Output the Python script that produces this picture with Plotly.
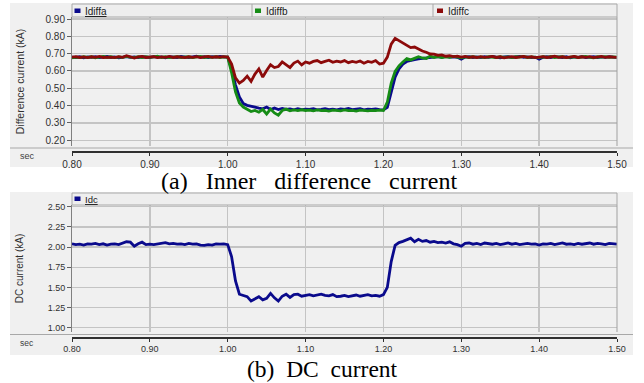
import plotly.graph_objects as go

W, H = 644, 383

# ---------------- data (sampled every 5 ms from 0.80 s) ----------------
t_start = 0.80
t_step = 0.005

idiffa = [
    0.680, 0.678, 0.682, 0.676, 0.681, 0.679, 0.683, 0.677, 0.680, 0.684,
    0.678, 0.681, 0.676, 0.680, 0.683, 0.679, 0.681, 0.677, 0.682, 0.680,
    0.678, 0.683, 0.679, 0.681, 0.676, 0.682, 0.680, 0.678, 0.684, 0.680,
    0.677, 0.681, 0.685, 0.679, 0.682, 0.678, 0.683, 0.680, 0.684, 0.681,
    0.680, 0.610, 0.520, 0.450, 0.412, 0.402, 0.395, 0.392, 0.386, 0.382,
    0.392, 0.378, 0.386, 0.377, 0.384, 0.378, 0.381, 0.376, 0.383, 0.377,
    0.380, 0.378, 0.382, 0.376, 0.379, 0.383, 0.377, 0.380, 0.376, 0.381,
    0.378, 0.384, 0.377, 0.379, 0.382, 0.376, 0.380, 0.378, 0.381, 0.377,
    0.376, 0.390, 0.480, 0.565, 0.612, 0.640, 0.655, 0.662, 0.665, 0.670,
    0.672, 0.675, 0.678, 0.680, 0.683, 0.679, 0.684, 0.680, 0.682, 0.679,
    0.668, 0.680, 0.683, 0.678, 0.681, 0.677, 0.682, 0.679, 0.684, 0.680,
    0.676, 0.681, 0.683, 0.678, 0.680, 0.684, 0.679, 0.681, 0.677, 0.680,
    0.668, 0.679, 0.682, 0.677, 0.683, 0.680, 0.678, 0.682, 0.676, 0.681,
    0.679, 0.683, 0.677, 0.680, 0.682, 0.678, 0.681, 0.679, 0.683, 0.680,
    0.678,
]

idiffb = [
    0.675, 0.680, 0.677, 0.683, 0.678, 0.682, 0.676, 0.681, 0.684, 0.678,
    0.682, 0.677, 0.681, 0.679, 0.684, 0.680, 0.677, 0.682, 0.678, 0.683,
    0.679, 0.681, 0.685, 0.678, 0.682, 0.677, 0.681, 0.683, 0.678, 0.680,
    0.682, 0.677, 0.681, 0.684, 0.678, 0.682, 0.679, 0.683, 0.677, 0.681,
    0.680, 0.590, 0.480, 0.415, 0.392, 0.378, 0.366, 0.372, 0.362, 0.378,
    0.352, 0.380, 0.358, 0.345, 0.372, 0.380, 0.370, 0.375, 0.371, 0.376,
    0.372, 0.374, 0.370, 0.375, 0.371, 0.373, 0.369, 0.374, 0.372, 0.370,
    0.375, 0.371, 0.373, 0.369, 0.374, 0.372, 0.370, 0.373, 0.371, 0.374,
    0.372, 0.420, 0.530, 0.598, 0.630, 0.652, 0.672, 0.664, 0.672, 0.682,
    0.675, 0.672, 0.686, 0.678, 0.683, 0.677, 0.681, 0.679, 0.684, 0.678,
    0.676, 0.681, 0.678, 0.683, 0.679, 0.681, 0.677, 0.682, 0.680, 0.678,
    0.683, 0.679, 0.681, 0.677, 0.682, 0.680, 0.684, 0.678, 0.681, 0.679,
    0.677, 0.682, 0.679, 0.684, 0.678, 0.681, 0.683, 0.677, 0.680, 0.682,
    0.678, 0.681, 0.684, 0.679, 0.676, 0.682, 0.680, 0.683, 0.679, 0.681,
    0.680,
]

idiffc = [
    0.680, 0.683, 0.678, 0.681, 0.677, 0.682, 0.679, 0.684, 0.678, 0.681,
    0.680, 0.677, 0.683, 0.679, 0.688, 0.682, 0.675, 0.681, 0.684, 0.678,
    0.680, 0.683, 0.677, 0.681, 0.679, 0.684, 0.678, 0.682, 0.680, 0.677,
    0.682, 0.679, 0.683, 0.678, 0.681, 0.684, 0.679, 0.682, 0.680, 0.683,
    0.680, 0.640, 0.560, 0.530, 0.545, 0.570, 0.540, 0.582, 0.612, 0.565,
    0.603, 0.636, 0.620, 0.626, 0.652, 0.635, 0.620, 0.646, 0.657, 0.635,
    0.652, 0.645, 0.655, 0.660, 0.648, 0.655, 0.662, 0.650, 0.657, 0.652,
    0.660, 0.648, 0.655, 0.650, 0.658, 0.645, 0.655, 0.650, 0.660, 0.640,
    0.645, 0.680, 0.755, 0.788, 0.775, 0.765, 0.752, 0.735, 0.738, 0.725,
    0.715, 0.708, 0.698, 0.697, 0.690, 0.693, 0.685, 0.688, 0.683, 0.686,
    0.680, 0.684, 0.679, 0.682, 0.677, 0.683, 0.679, 0.681, 0.684, 0.678,
    0.682, 0.676, 0.681, 0.683, 0.678, 0.680, 0.684, 0.679, 0.682, 0.677,
    0.680, 0.683, 0.678, 0.681, 0.685, 0.679, 0.682, 0.677, 0.681, 0.684,
    0.678, 0.682, 0.679, 0.683, 0.677, 0.681, 0.684, 0.679, 0.682, 0.680,
    0.678,
]

idc = [
    2.040, 2.030, 2.035, 2.025, 2.040, 2.035, 2.045, 2.030, 2.040, 2.025,
    2.035, 2.040, 2.030, 2.050, 2.065, 2.060, 2.010, 2.040, 2.060, 2.030,
    2.035, 2.030, 2.040, 2.050, 2.055, 2.040, 2.045, 2.035, 2.040, 2.030,
    2.045, 2.035, 2.040, 2.025, 2.020, 2.030, 2.025, 2.040, 2.035, 2.040,
    2.030, 1.880, 1.580, 1.415, 1.400, 1.385, 1.330, 1.360, 1.384, 1.345,
    1.365, 1.425, 1.370, 1.330, 1.390, 1.415, 1.375, 1.410, 1.415, 1.390,
    1.400, 1.410, 1.395, 1.405, 1.415, 1.400, 1.395, 1.410, 1.385, 1.390,
    1.400, 1.385, 1.395, 1.405, 1.390, 1.400, 1.410, 1.395, 1.400, 1.390,
    1.410, 1.500, 1.820, 2.020, 2.055, 2.070, 2.095, 2.110, 2.065, 2.095,
    2.070, 2.080, 2.060, 2.070, 2.055, 2.060, 2.050, 2.065, 2.040, 2.030,
    2.010, 2.045, 2.050, 2.035, 2.045, 2.030, 2.050, 2.040, 2.035, 2.045,
    2.030, 2.040, 2.050, 2.035, 2.045, 2.030, 2.040, 2.045, 2.035, 2.040,
    2.025, 2.040, 2.035, 2.045, 2.030, 2.040, 2.050, 2.035, 2.040, 2.030,
    2.045, 2.035, 2.040, 2.050, 2.035, 2.045, 2.040, 2.030, 2.045, 2.040,
    2.035,
]

x_ticks = [0.80, 0.90, 1.00, 1.10, 1.20, 1.30, 1.40, 1.50]
x_labels = ["0.80", "0.90", "1.00", "1.10", "1.20", "1.30", "1.40", "1.50"]
y1_ticks = [0.20, 0.30, 0.40, 0.50, 0.60, 0.70, 0.80, 0.90]
y1_labels = ["0.20", "0.30", "0.40", "0.50", "0.60", "0.70", "0.80", "0.90"]
y2_ticks = [1.00, 1.25, 1.50, 1.75, 2.00, 2.25, 2.50]
y2_labels = ["1.00", "1.25", "1.50", "1.75", "2.00", "2.25", "2.50"]

# ---------------- helpers (pixel -> paper) ----------------
def px(x):
    return x / W


def py(y):
    return 1 - y / H


BLUE = "#0a0a8c"
GREEN = "#168c16"
RED = "#8c0a0a"
GRAY_BG = "#f0f0f0"
GRID = "#c4c4c4"
FONT = "Liberation Sans, Arial, sans-serif"

fig = go.Figure()
fig.add_trace(go.Scatter(y=idiffa, x0=t_start, dx=t_step, mode="lines",
                         line=dict(color=BLUE, width=2.8), xaxis="x", yaxis="y"))
fig.add_trace(go.Scatter(y=idiffb, x0=t_start, dx=t_step, mode="lines",
                         line=dict(color=GREEN, width=2.8), xaxis="x", yaxis="y"))
fig.add_trace(go.Scatter(y=idiffc, x0=t_start, dx=t_step, mode="lines",
                         line=dict(color=RED, width=2.8), xaxis="x", yaxis="y"))
fig.add_trace(go.Scatter(y=idc, x0=t_start, dx=t_step, mode="lines",
                         line=dict(color=BLUE, width=2.8), xaxis="x2", yaxis="y2"))

XL, XR = 72, 617
# top panel geometry
T_TOP, T_BOT, T_AX = 17, 146, 151
# bottom panel geometry
B_TOP, B_BOT, B_AX = 205, 332, 337

common_x = dict(range=[0.80, 1.50], tickvals=x_ticks, ticktext=x_labels,
                showgrid=True, gridcolor=GRID, gridwidth=1.3, zeroline=False,
                showline=True, linecolor="#303030", linewidth=1.5,
                ticks="outside", ticklen=3, tickcolor="#303030",
                automargin=False,
                anchor="free", domain=[px(XL), px(XR)])
common_y = dict(showgrid=True, gridcolor=GRID, gridwidth=1.3, zeroline=False,
                showline=True, linecolor="#808080", linewidth=1,
                ticks="outside", ticklen=4, tickcolor="#606060",
                automargin=False)

fig.update_layout(
    width=W, height=H,
    margin=dict(l=0, r=0, t=0, b=0, autoexpand=False),
    paper_bgcolor="white",
    plot_bgcolor="white",
    showlegend=False,
    font=dict(family=FONT, color="#303030", size=10),
    xaxis=dict(**common_x, position=py(T_AX),
               tickfont=dict(size=10, color="#303030")),
    yaxis=dict(**common_y, domain=[py(T_BOT), py(T_TOP)],
               range=[0.2 - (T_BOT - 140.3) / 173.3, 0.9 + (19 - T_TOP) / 173.3],
               tickvals=y1_ticks, ticktext=y1_labels,
               tickfont=dict(size=10, color="#303030"),
               title=dict(text="Difference current (kA)", standoff=18,
                          font=dict(size=10.5, color="#303030"))),
    xaxis2=dict(**common_x, position=py(B_AX),
                tickfont=dict(size=9, color="#303030")),
    yaxis2=dict(**common_y, domain=[py(B_BOT), py(B_TOP)],
                range=[1.0 - (B_BOT - 327.7) / 80.67, 2.5 + (206.7 - B_TOP) / 80.67],
                tickvals=y2_ticks, ticktext=y2_labels,
                tickfont=dict(size=9, color="#303030"),
                title=dict(text="DC current (kA)", standoff=22,
                           font=dict(size=10, color="#303030"))),
)

shapes = []


def rect(x0, y0, x1, y1, fill, line=None, layer="below", lw=1):
    shapes.append(dict(type="rect", xref="paper", yref="paper",
                       x0=px(x0), x1=px(x1), y0=py(y1), y1=py(y0),
                       fillcolor=fill, layer=layer,
                       line=dict(color=line or fill, width=lw if line else 0)))


def hline(x0, x1, y, color, layer="above", w=1):
    shapes.append(dict(type="line", xref="paper", yref="paper",
                       x0=px(x0), x1=px(x1), y0=py(y), y1=py(y),
                       line=dict(color=color, width=w), layer=layer))


def vline(x, y0, y1, color, layer="above", w=1):
    shapes.append(dict(type="line", xref="paper", yref="paper",
                       x0=px(x), x1=px(x), y0=py(y0), y1=py(y1),
                       line=dict(color=color, width=w), layer=layer))


# panel backgrounds
rect(10, 3, 633, 167, GRAY_BG)
rect(10, 192, 633, 355, GRAY_BG)
# strips below white plot area (cover grid in the band)
rect(XL + 1, T_BOT, XR + 1, T_AX - 1, GRAY_BG, layer="above")
rect(XL + 1, B_BOT, XR + 1, B_AX - 1, GRAY_BG, layer="above")
hline(10, 633, 148, "#a8a8a8")
hline(10, 633, 334.5, "#a8a8a8")
vline(XR, T_TOP, T_BOT, "#a0a0a0")
vline(XR, B_TOP, B_BOT, "#a0a0a0")

# legend bars
rect(XL, 4, XR, T_TOP, "#eeeeee", line="#a8a8a8", layer="above")
vline(252, 4, T_TOP, "#a8a8a8")
vline(433, 4, T_TOP, "#a8a8a8")
rect(XL, 193, XR, B_TOP, "#eeeeee", line="#a8a8a8", layer="above")

# legend squares
rect(74.5, 8.5, 80.5, 13, BLUE, layer="above")
rect(255, 8.5, 261, 13, GREEN, layer="above")
rect(437, 8.5, 443, 13, RED, layer="above")
rect(74.5, 196.5, 80.5, 201, BLUE, layer="above")

fig.update_layout(shapes=shapes)

ann = []


def text(x, y, s, size=10, xanchor="left", family=FONT, color="#202020"):
    ann.append(dict(x=px(x), y=py(y), xref="paper", yref="paper", text=s,
                    showarrow=False, xanchor=xanchor, yanchor="middle",
                    font=dict(size=size, family=family, color=color)))


text(83, 11, "<u>Idiffa</u>")
text(264, 11, "Idiffb")
text(446, 11, "Idiffc")
text(83, 199, "<u>Idc</u>", size=9.5)
text(27, 156, "sec", size=9, xanchor="center", color="#404040")
text(27, 343, "sec", size=8.5, xanchor="center", color="#404040")

SERIF = "Liberation Serif, Times New Roman, serif"
text(309, 181, "(a)\u00a0\u00a0 Inner\u00a0\u00a0 difference\u00a0\u00a0 current", size=24,
     xanchor="center", family=SERIF, color="black")
text(322, 369, "(b)\u00a0 DC\u00a0 current", size=23.5,
     xanchor="center", family=SERIF, color="black")

fig.update_layout(annotations=ann)

fig.write_html(
    "out.html",
    config={"displayModeBar": False, "staticPlot": True},
    post_script="document.body.style.margin='0';document.body.style.padding='0';"
                "document.body.style.overflow='hidden';",
)
